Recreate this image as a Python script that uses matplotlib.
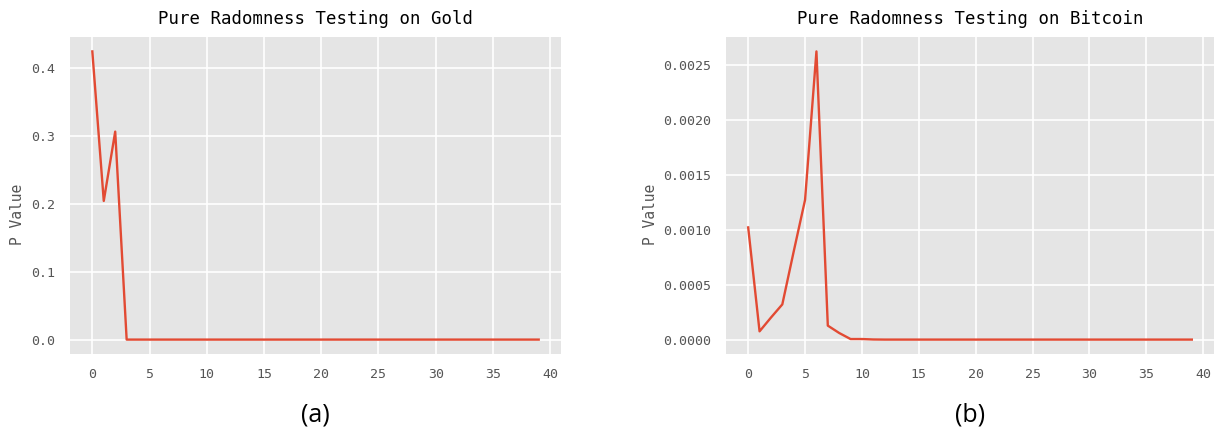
import matplotlib
matplotlib.use('Agg')
import matplotlib.pyplot as plt
import numpy as np

plt.style.use('ggplot')

# lags 0..39
lags = np.arange(40)

# p values for gold
gold_p = [0.424, 0.204, 0.306] + [0.0] * 37

# p values for bitcoin
btc_p = [0.00102, 0.000075, 0.0002, 0.00032, 0.0008, 0.00127, 0.00262,
         0.000127, 0.00006, 0.000005, 0.000005, 0.000001] + [0.0] * 28

titles = ['Pure Radomness Testing on Gold', 'Pure Radomness Testing on Bitcoin']
panel_tags = ['(a)', '(b)']

mono = 'DejaVu Sans Mono'

fig = plt.figure(figsize=(12.19, 4.28), dpi=100)
fig.patch.set_facecolor('white')

W, H = 1219.0, 428.0
# axes boxes in pixels: left, right
boxes = [(70, 561), (726, 1214)]
top, bottom = 37, 354

for i, (series, title, tag) in enumerate(zip([gold_p, btc_p], titles, panel_tags)):
    l, r = boxes[i]
    ax = fig.add_axes([l / W, (H - bottom) / H, (r - l) / W, (bottom - top) / H])
    ax.plot(lags, series, color='#E24A33', linewidth=1.7)
    ax.set_facecolor('#E5E5E5')
    ax.grid(True, color='white', linewidth=1.2)
    for s in ax.spines.values():
        s.set_visible(False)
    ax.set_xticks(range(0, 41, 5))
    if i == 1:
        ax.set_yticks([0, 0.0005, 0.001, 0.0015, 0.002, 0.0025])
        ax.set_yticklabels(['0.0000', '0.0005', '0.0010', '0.0015', '0.0020', '0.0025'])
    else:
        ax.set_yticks([0, 0.1, 0.2, 0.3, 0.4])
        ax.set_yticklabels(['0.0', '0.1', '0.2', '0.3', '0.4'])
    ax.tick_params(axis='x', length=0, pad=10, labelsize=9.5, labelcolor='#555555')
    ax.tick_params(axis='y', length=0, pad=11, labelsize=9.5, labelcolor='#555555')
    for lb in ax.get_xticklabels() + ax.get_yticklabels():
        lb.set_family(mono)
    ax.set_title(title, fontsize=12.5, family=mono, color='black', pad=9)
    ax.set_ylabel('P Value', fontsize=10.5, family=mono, color='#555555')
    ylab_x = [25, 658][i]
    ax.yaxis.set_label_coords(ylab_x / W, 0.5, transform=fig.transFigure)
    fig.text((l + r) / 2 / W, (H - 415) / H, tag, ha='center', va='center',
             fontsize=18, family='Open Sans', color='black')

fig.savefig('out.png', dpi=100)
